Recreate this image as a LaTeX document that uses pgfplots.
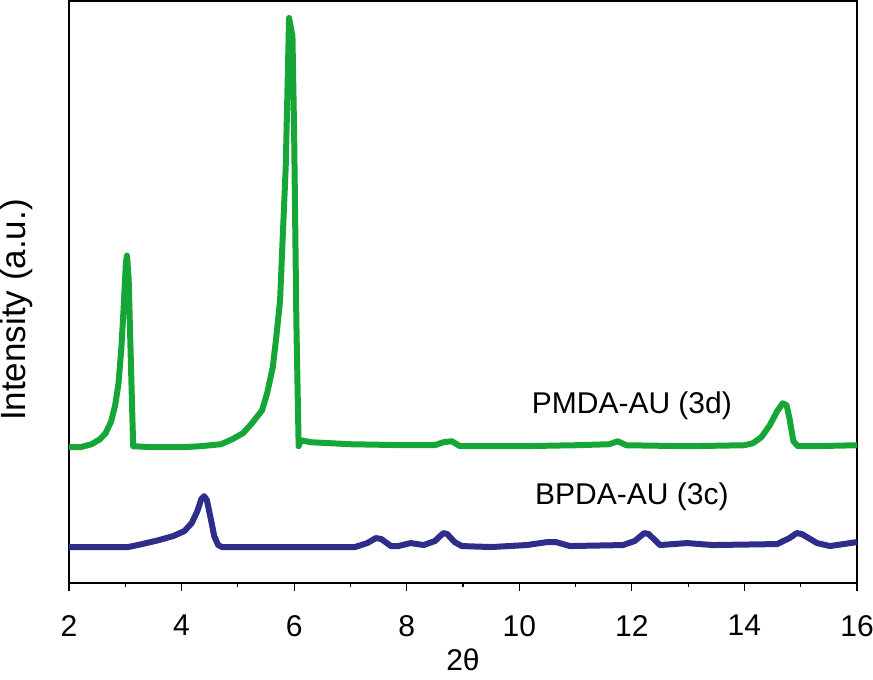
\documentclass[border=0pt]{standalone}
\usepackage{pgfplots}
\pgfplotsset{compat=1.18}
\usepackage{fontspec}
\setmainfont{Liberation Sans}

\definecolor{pmda}{RGB}{22,166,56}
\definecolor{bpda}{RGB}{46,45,138}

\begin{document}
\begin{tikzpicture}
  \begin{axis}[
      scale only axis,
      width=394pt, height=291pt,
      xmin=2, xmax=16,
      ymin=0, ymax=583,
      xtick={2,4,...,16},
      minor xtick={3,5,...,15},
      ytick=\empty,
      xtick pos=bottom,
      tick align=outside,
      major tick length=4pt,
      minor tick length=2.2pt,
      tick style={black, line width=0.6pt},
      axis line style={line width=0.8pt},
      /pgf/number format/assume math mode=true,
      xticklabel style={font=\fontsize{15}{17}\selectfont, yshift=-8.5pt},
      xlabel={2θ},
      ylabel={Intensity (a.u.)},
      xlabel style={font=\fontsize{15}{17}\selectfont, at={(axis description cs:0.5,0)}, anchor=center, yshift=-38.5pt},
      ylabel style={font=\fontsize{17.5}{19}\selectfont, at={(axis description cs:-0.067,0.469)}, anchor=center},
    ]
    % PMDA-AU (3d)
    \addplot[color=pmda, line width=3pt, line join=round] coordinates {
      (2.00,136) (2.20,136) (2.40,139) (2.55,144) (2.65,150) (2.75,162)
      (2.82,178) (2.88,200) (2.93,235) (2.97,275) (3.01,320) (3.03,328)
      (3.06,305) (3.10,220) (3.14,137) (3.50,136) (4.00,136) (4.33,137)
      (4.70,139) (4.90,144) (5.09,150) (5.25,160) (5.43,173) (5.52,190)
      (5.62,216) (5.68,245) (5.75,283) (5.80,350) (5.85,416) (5.88,490)
      (5.91,566) (5.97,548) (6.00,450) (6.04,260) (6.08,137) (6.12,143)
      (6.30,141) (7.00,139) (8.00,138) (8.50,138) (8.65,141) (8.80,142)
      (8.95,137) (10.00,137) (11.00,138) (11.60,139) (11.75,142)
      (11.90,138) (13.00,137) (14.00,138) (14.15,140) (14.30,146)
      (14.45,158) (14.58,172) (14.68,180) (14.75,178) (14.80,165)
      (14.87,142) (14.95,137) (15.20,137) (16.00,138)
    };
    % BPDA-AU (3c)
    \addplot[color=bpda, line width=3pt, line join=round] coordinates {
      (2.00,36) (3.05,36) (3.30,39) (3.60,43) (3.85,47) (4.05,52)
      (4.18,60) (4.28,72) (4.35,84) (4.40,87) (4.45,83) (4.52,64)
      (4.58,47) (4.65,38) (4.72,36) (5.50,36) (6.50,36) (7.08,36)
      (7.30,40) (7.45,45) (7.55,44) (7.72,37) (7.85,37) (8.07,40)
      (8.30,38) (8.50,42) (8.65,50) (8.72,49) (8.85,41) (8.98,37)
      (9.50,36) (10.13,38) (10.50,41) (10.65,41) (10.90,37) (11.84,38)
      (12.05,42) (12.22,50) (12.30,49) (12.50,38) (12.98,40) (13.44,38)
      (14.58,39) (14.80,45) (14.93,50) (15.02,49) (15.29,40) (15.52,37)
      (16.00,41)
    };
    \node[font=\fontsize{15}{17}\selectfont] at (axis cs:12.0,178) {PMDA-AU (3d)};
    \node[font=\fontsize{15}{17}\selectfont] at (axis cs:12.0,86) {BPDA-AU (3c)};
  \end{axis}
  \pgfresetboundingbox
  \path[use as bounding box] (-34.5pt,-48.5pt) rectangle (402pt,291.5pt);
\end{tikzpicture}
\end{document}
